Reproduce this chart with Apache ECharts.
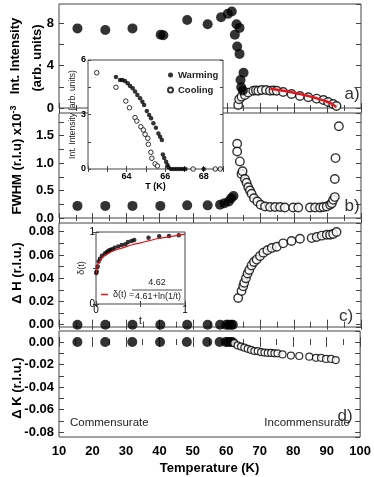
<!DOCTYPE html>
<html>
<head>
<meta charset="utf-8">
<script src="https://cdn.jsdelivr.net/npm/echarts@6/dist/echarts.min.js"></script>
<style>
  html, body { margin: 0; padding: 0; background: #fff; }
  #chart { width: 374px; height: 477px; }
</style>
</head>
<body>
<div id="chart"></div>
<script>
// ============ Data ============
// panel a) integrated intensity
const aWarmT = [15.5, 23.8, 31.9, 40.3, 41.1, 48.2, 54.3, 58.3, 60.3, 61.5, 62.9, 63.8, 62.4, 63.1, 63.8, 65.0, 64.1, 64.3, 64.8]
const aWarmI = [7.5, 7.35, 7.5, 6.9, 6.85, 8.3, 7.9, 8.55, 8.87, 9.09, 7.9, 7.55, 6.9, 5.8, 5.1, 3.33, 2.64, 1.95, 1.65]
const aCoolT = [63.4, 63.7, 64.4, 65.4, 66.4, 67.9, 68.7, 69.4, 70.4, 71.7, 72.9, 73.9, 74.9, 76.8, 79.3, 81.8, 84.3, 86.8, 88.8, 90.2, 91.7, 92.7]
const aCoolI = [0.28, 0.82, 1.07, 1.23, 1.45, 1.63, 1.66, 1.63, 1.7, 1.7, 1.63, 1.65, 1.63, 1.51, 1.32, 1.13, 1.01, 0.88, 0.75, 0.57, 0.38, 0.19]
const aFitT = [73, 75, 77, 79, 81, 83, 85, 87, 89, 90.5, 91.5, 92.6]
const aFitI = [1.78, 1.72, 1.62, 1.5, 1.37, 1.23, 1.07, 0.9, 0.7, 0.52, 0.35, 0.08]

// panel b) FWHM
const bWarmT = [15.5, 23.8, 31.9, 40.2, 48.2, 54.3, 58.0, 59.3, 60.6, 61.3, 62.0]
const bWarmF = [0.22, 0.22, 0.22, 0.22, 0.23, 0.23, 0.24, 0.27, 0.3, 0.36, 0.4]
const bCoolT = [63.1, 63.1, 63.9, 64.4, 64.7, 65.4, 65.9, 66.4, 66.9, 67.4, 68.1, 69.1, 70.1, 71.4, 72.9, 74.4, 75.9, 77.3, 79.8, 81.3, 84.8, 86.3, 87.8, 88.8, 89.8, 90.8, 91.3, 91.7, 92.2, 92.2, 92.4, 93.4]
const bCoolF = [1.35, 1.21, 1.03, 0.8, 0.85, 0.71, 0.64, 0.56, 0.5, 0.44, 0.36, 0.3, 0.24, 0.21, 0.2, 0.2, 0.2, 0.19, 0.19, 0.19, 0.19, 0.19, 0.19, 0.2, 0.21, 0.24, 0.27, 0.33, 0.38, 0.71, 1.09, 1.67]

// panels c) and d) low temperature points
const lowT = [15.5, 23.8, 31.9, 40.2, 48.2, 54.3, 58.0, 59.8, 60.6, 61.3, 61.8]
const lowZero = [0, 0, 0, 0, 0, 0, 0, 0, 0, 0, 0]

// panel c) delta H
const cCoolT = [63.4, 64.4, 64.9, 65.2, 65.7, 66.2, 66.7, 67.4, 68.1, 68.9, 69.9, 70.9, 72.1, 73.4, 74.9, 76.8, 79.3, 81.8, 85.3, 86.8, 88.3, 89.8, 90.8, 91.7, 92.7]
const cCoolH = [0.023, 0.029, 0.033, 0.036, 0.04, 0.044, 0.047, 0.051, 0.054, 0.056, 0.059, 0.062, 0.064, 0.066, 0.067, 0.07, 0.072, 0.074, 0.0745, 0.0755, 0.0766, 0.0774, 0.0774, 0.078, 0.0797]

// panel d) delta K
const dCoolT = [62.4, 63.4, 64.4, 65.4, 66.4, 67.4, 68.4, 69.4, 70.4, 71.4, 72.4, 73.4, 74.4, 75.3, 76.8, 79.3, 81.8, 84.8, 86.8, 88.3, 89.8, 91.3, 92.7]
const dCoolK = [-0.001, -0.003, -0.004, -0.005, -0.006, -0.007, -0.008, -0.008, -0.009, -0.0094, -0.0097, -0.0097, -0.01, -0.01, -0.011, -0.012, -0.0124, -0.013, -0.014, -0.014, -0.015, -0.015, -0.016]

// inset 1: warming / cooling near the transition
const insWarmT = [63.45, 63.66, 63.78, 63.92, 64.06, 64.18, 64.32, 64.44, 64.56, 64.7, 64.82, 64.91, 65.05, 65.17, 65.27, 65.39, 65.52, 65.65, 65.74, 65.83, 65.88, 65.95, 66.05, 66.12, 66.17, 66.3, 66.45, 66.6, 66.75, 66.9, 67.05, 68.0]
const insWarmI = [5.06, 4.9, 4.9, 4.84, 4.72, 4.57, 4.44, 4.26, 4.07, 3.89, 3.7, 3.52, 3.19, 2.97, 2.79, 2.52, 2.27, 1.96, 1.78, 1.6, 0.8, 0.6, 0.4, 0.22, 0.09, 0, 0, 0, 0, 0, 0, 0]
const insCoolT = [62.45, 63.45, 63.96, 64.15, 64.44, 64.53, 64.74, 64.87, 64.96, 65.1, 65.13, 65.26, 65.31, 65.48, 65.6, 67.45, 68.6, 68.86]
const insCoolI = [5.3, 4.5, 3.74, 3.37, 2.83, 2.64, 2.33, 2.15, 1.91, 1.69, 1.36, 0.92, 0.59, 0.28, 0.17, 0, 0, 0]

// inset 2: delta(t)
const delT = [0.003, 0.008, 0.019, 0.03, 0.045, 0.067, 0.1, 0.12, 0.14, 0.16, 0.18, 0.21, 0.25, 0.29, 0.33, 0.36, 0.4, 0.43, 0.59, 0.71, 0.82, 0.93]
const delV = [0.43, 0.45, 0.52, 0.59, 0.63, 0.67, 0.7, 0.72, 0.74, 0.75, 0.76, 0.78, 0.8, 0.82, 0.83, 0.86, 0.875, 0.89, 0.92, 0.94, 0.945, 0.955]
const delFitT = [0.003, 0.01, 0.02, 0.04, 0.07, 0.1, 0.15, 0.2, 0.3, 0.4, 0.5, 0.6, 0.7, 0.8, 0.9, 1.0]
const delFitV = [0.42, 0.5, 0.54, 0.59, 0.64, 0.67, 0.71, 0.74, 0.78, 0.82, 0.85, 0.88, 0.91, 0.93, 0.95, 0.97]

// ============ Helpers ============
const FONT = 'Liberation Sans, Arial, sans-serif'
const LINE = '#444'
const INK = '#000'
const RED = '#e4141b'
const pairs = (xs, ys) => xs.map((x, i) => [x, ys[i]])
const onStep = (v, step) => Math.abs(v / step - Math.round(v / step)) < 1e-6

const grids = []
const xAxes = []
const yAxes = []
const series = []

const tick = (len) => ({ inside: true, length: len, lineStyle: { color: LINE, width: 1 } })

function addGrid(g) {
  grids.push(Object.assign({ show: true, borderColor: LINE, borderWidth: 1, backgroundColor: 'rgba(0,0,0,0)' }, g))
  return grids.length - 1
}

// x axis pair (bottom + top), returns index of bottom axis
function addX(gridIndex, opts, label, z) {
  const base = {
    type: 'value', gridIndex, z: z || 0,
    axisLine: { show: false }, splitLine: { show: false },
    axisTick: tick(opts.tickLen || 5),
  }
  xAxes.push(Object.assign({}, base, opts.scale, { position: 'bottom', axisLabel: label }, opts.extra || {}))
  const idx = xAxes.length - 1
  xAxes.push(Object.assign({}, base, opts.scale, { position: 'top', axisLabel: { show: false } }))
  return idx
}

function addY(gridIndex, opts, label, z) {
  const base = {
    type: 'value', gridIndex, z: z || 0,
    axisLine: { show: false }, splitLine: { show: false },
    axisTick: tick(opts.tickLen || 5),
  }
  yAxes.push(Object.assign({}, base, opts.scale, { position: 'left', axisLabel: label }, opts.extra || {}))
  const idx = yAxes.length - 1
  yAxes.push(Object.assign({}, base, opts.scale, { position: 'right', axisLabel: { show: false } }))
  return idx
}

const mainLabel = { fontFamily: FONT, fontSize: 13, fontWeight: 'bold', color: INK, margin: 5 }

function filled(name, xi, yi, data, size, z) {
  series.push({
    name, type: 'scatter', xAxisIndex: xi, yAxisIndex: yi, data,
    symbol: 'circle', symbolSize: size, itemStyle: { color: INK }, z: z || 3,
  })
}
function open(name, xi, yi, data, size, z, bw) {
  series.push({
    name, type: 'scatter', xAxisIndex: xi, yAxisIndex: yi, data,
    symbol: 'circle', symbolSize: size,
    itemStyle: { color: '#fff', borderColor: INK, borderWidth: bw || 1.4 }, z: z || 3,
  })
}

// ============ Main panels ============
const panels = [
  { top: 4, height: 104, scale: { min: 0, max: 9.8, interval: 2 }, fmt: v => (onStep(v, 4) ? String(v) : '') },
  { top: 113, height: 105, scale: { min: 0, max: 1.91, interval: 0.25 }, fmt: v => (onStep(v, 0.5) ? v.toFixed(1) : '') },
  { top: 223, height: 104, scale: { min: -0.002, max: 0.0875, minInterval: 0.01, maxInterval: 0.01, splitNumber: 9 }, fmt: v => (onStep(v, 0.02) ? v.toFixed(2) : '') },
  { top: 331, height: 106, scale: { min: -0.0844, max: 0.0098, minInterval: 0.01, maxInterval: 0.01, splitNumber: 9 }, fmt: v => (onStep(v, 0.02) ? (Math.abs(v) < 1e-9 ? '0.00' : v.toFixed(2)) : '') },
]

const idx = panels.map((p, i) => {
  const g = addGrid({ left: 59, width: 302, top: p.top, height: p.height })
  const last = i === panels.length - 1
  const minor = { show: true, splitNumber: 2, length: 3, lineStyle: { color: LINE } }
  const xi = addX(g, {
    scale: { min: 10, max: 100, interval: 10 },
    extra: {
      minorTick: minor,
      name: last ? 'Temperature (K)' : '',
      nameLocation: 'middle', nameGap: 25,
      nameTextStyle: { fontFamily: FONT, fontSize: 13, fontWeight: 'bold', color: INK },
    },
  }, last ? Object.assign({}, mainLabel, { margin: 8 }) : { show: false })
  xAxes[xi + 1].minorTick = minor
  const yi = addY(g, { scale: p.scale }, Object.assign({}, mainLabel, { formatter: p.fmt, showMinLabel: i < 2, showMaxLabel: false }))
  return { xi, yi }
})

// a)
open('aCool', idx[0].xi, idx[0].yi, pairs(aCoolT, aCoolI), 8.5)
filled('aWarm', idx[0].xi, idx[0].yi, pairs(aWarmT, aWarmI), 10)
series.push({
  name: 'aFit', type: 'line', xAxisIndex: idx[0].xi, yAxisIndex: idx[0].yi,
  data: pairs(aFitT, aFitI), smooth: true, symbol: 'none',
  lineStyle: { color: RED, width: 2.5 }, z: 4,
})
// b)
filled('bWarm', idx[1].xi, idx[1].yi, pairs(bWarmT, bWarmF), 10)
open('bCool', idx[1].xi, idx[1].yi, pairs(bCoolT, bCoolF), 8.5)
// c)
filled('cWarm', idx[2].xi, idx[2].yi, pairs(lowT, lowZero), 10)
open('cCool', idx[2].xi, idx[2].yi, pairs(cCoolT, cCoolH), 8.5)
// d)
filled('dWarm', idx[3].xi, idx[3].yi, pairs(lowT, lowZero), 10)
open('dCool', idx[3].xi, idx[3].yi, pairs(dCoolT, dCoolK), 7, 3, 1.2)

// ============ Inset 1 (warming / cooling) ============
const in1 = addGrid({ left: 88, top: 60, width: 135, height: 109, backgroundColor: '#fff', z: 10 })
const insLabel = { fontFamily: FONT, fontSize: 9, fontWeight: 'bold', color: INK, margin: 3 }
const in1x = addX(in1, {
  scale: { min: 62, max: 69, interval: 1 }, tickLen: 3,
  extra: {
    name: 'T (K)', nameLocation: 'middle', nameGap: 10,
    nameTextStyle: { fontFamily: FONT, fontSize: 9, fontWeight: 'bold', color: INK },
  },
}, Object.assign({}, insLabel, { formatter: v => (v === 64 || v === 66 || v === 68 ? String(v) : '') }), 11)
const in1y = addY(in1, {
  scale: { min: 0, max: 6, interval: 1.5 }, tickLen: 3,
  extra: {
    name: 'Int. Intensity (arb. units)', nameLocation: 'middle', nameGap: 6,
    nameTextStyle: { fontFamily: FONT, fontSize: 8.5, color: '#222' },
  },
}, Object.assign({}, insLabel, { margin: 2, formatter: v => (onStep(v, 3) ? String(v) : '') }), 11)
filled('Warming', in1x, in1y, pairs(insWarmT, insWarmI), 4.5, 12)
open('Cooling', in1x, in1y, pairs(insCoolT, insCoolI), 4.5, 12, 1)

// ============ Inset 2 (delta(t)) ============
const in2 = addGrid({ left: 96, top: 232, width: 89, height: 72, backgroundColor: '#fff', z: 10 })
const in2x = addX(in2, {
  scale: { min: 0, max: 1, interval: 0.5 }, tickLen: 3,
  extra: {
    name: 't', nameLocation: 'middle', nameGap: 6,
    nameTextStyle: { fontFamily: FONT, fontSize: 10, color: INK },
  },
}, { fontFamily: FONT, fontSize: 10, color: INK, margin: 1, formatter: v => (v === 0 || v === 1 ? String(v) : '') }, 11)
const in2y = addY(in2, {
  scale: { min: 0, max: 1, interval: 0.5 }, tickLen: 3,
  extra: {
    name: 'δ(t)', nameLocation: 'middle', nameGap: 6,
    nameTextStyle: { fontFamily: FONT, fontSize: 9, color: '#222' },
  },
}, { fontFamily: FONT, fontSize: 10, color: INK, margin: 1, formatter: v => (v === 0 || v === 1 ? String(v) : '') }, 11)
filled('delta', in2x, in2y, pairs(delT, delV), 4.5, 12)
series.push({
  name: 'δ(t) =', type: 'line', xAxisIndex: in2x, yAxisIndex: in2y,
  data: pairs(delFitT, delFitV), smooth: true, symbol: 'none',
  itemStyle: { color: RED }, lineStyle: { color: RED, width: 1.2 }, z: 13,
})

// ============ Texts ============
const titleStyle = { fontFamily: FONT, fontSize: 13, fontWeight: 'bold', fill: INK, align: 'center', verticalAlign: 'middle' }
const vText = (x, y, text, extra) => ({
  type: 'text', x, y, rotation: Math.PI / 2, z: 20,
  style: Object.assign({ text }, titleStyle, extra || {}),
})
const hText = (x, y, text, style) => ({
  type: 'text', x, y, z: 20,
  style: Object.assign({ text, fontFamily: FONT, fill: INK, align: 'center', verticalAlign: 'middle' }, style),
})

const graphic = [
  vText(15, 56, 'Int. Intensity'),
  vText(37, 58, '(arb. units)'),
  vText(17, 160, 'FWHM (r.l.u) x10{s|-3}', { rich: { s: { fontFamily: FONT, fontSize: 9, fontWeight: 'bold', fill: INK, padding: [0, 0, 7, 0] } } }),
  vText(17, 273, 'Δ H (r.l.u.)'),
  vText(17, 388, 'Δ K (r.l.u.)'),
  hText(352, 94, 'a)', { fontSize: 17, fill: '#333' }),
  hText(352, 206, 'b)', { fontSize: 17, fill: '#333' }),
  hText(346, 316, 'c)', { fontSize: 17, fill: '#333' }),
  hText(345, 416, 'd)', { fontSize: 17, fill: '#333' }),
  hText(70, 423, 'Commensurate', { fontSize: 11.5, align: 'left', fill: '#222' }),
  hText(350, 423, 'Incommensurate', { fontSize: 11.5, align: 'right', fill: '#222' }),
  hText(157, 283, '4.62', { fontSize: 9, fill: '#222' }),
  { type: 'line', z: 20, shape: { x1: 132, y1: 290, x2: 182, y2: 290 }, style: { stroke: '#222', lineWidth: 0.8 } },
  hText(158, 297, '4.61+ln(1/t)', { fontSize: 9, fill: '#222' }),
]

// ============ Chart ============
const chart = echarts.init(document.getElementById('chart'), null, { renderer: 'canvas' })
chart.setOption({
  animation: false,
  backgroundColor: '#fff',
  grid: grids,
  xAxis: xAxes,
  yAxis: yAxes,
  legend: [
    {
      data: ['Warming', 'Cooling'], left: 162, top: 65, orient: 'vertical',
      itemWidth: 5, itemHeight: 5, itemGap: 5, z: 20,
      textStyle: { fontFamily: FONT, fontSize: 9.5, fontWeight: 'bold', color: '#222' },
    },
    {
      data: [{ name: 'δ(t) =', icon: 'rect' }], left: 96, top: 285, itemWidth: 7, itemHeight: 1.5, itemGap: 4, z: 20,
      textStyle: { fontFamily: FONT, fontSize: 9, color: '#222' },
    },
  ],
  graphic,
  series,
})
</script>
</body>
</html>
